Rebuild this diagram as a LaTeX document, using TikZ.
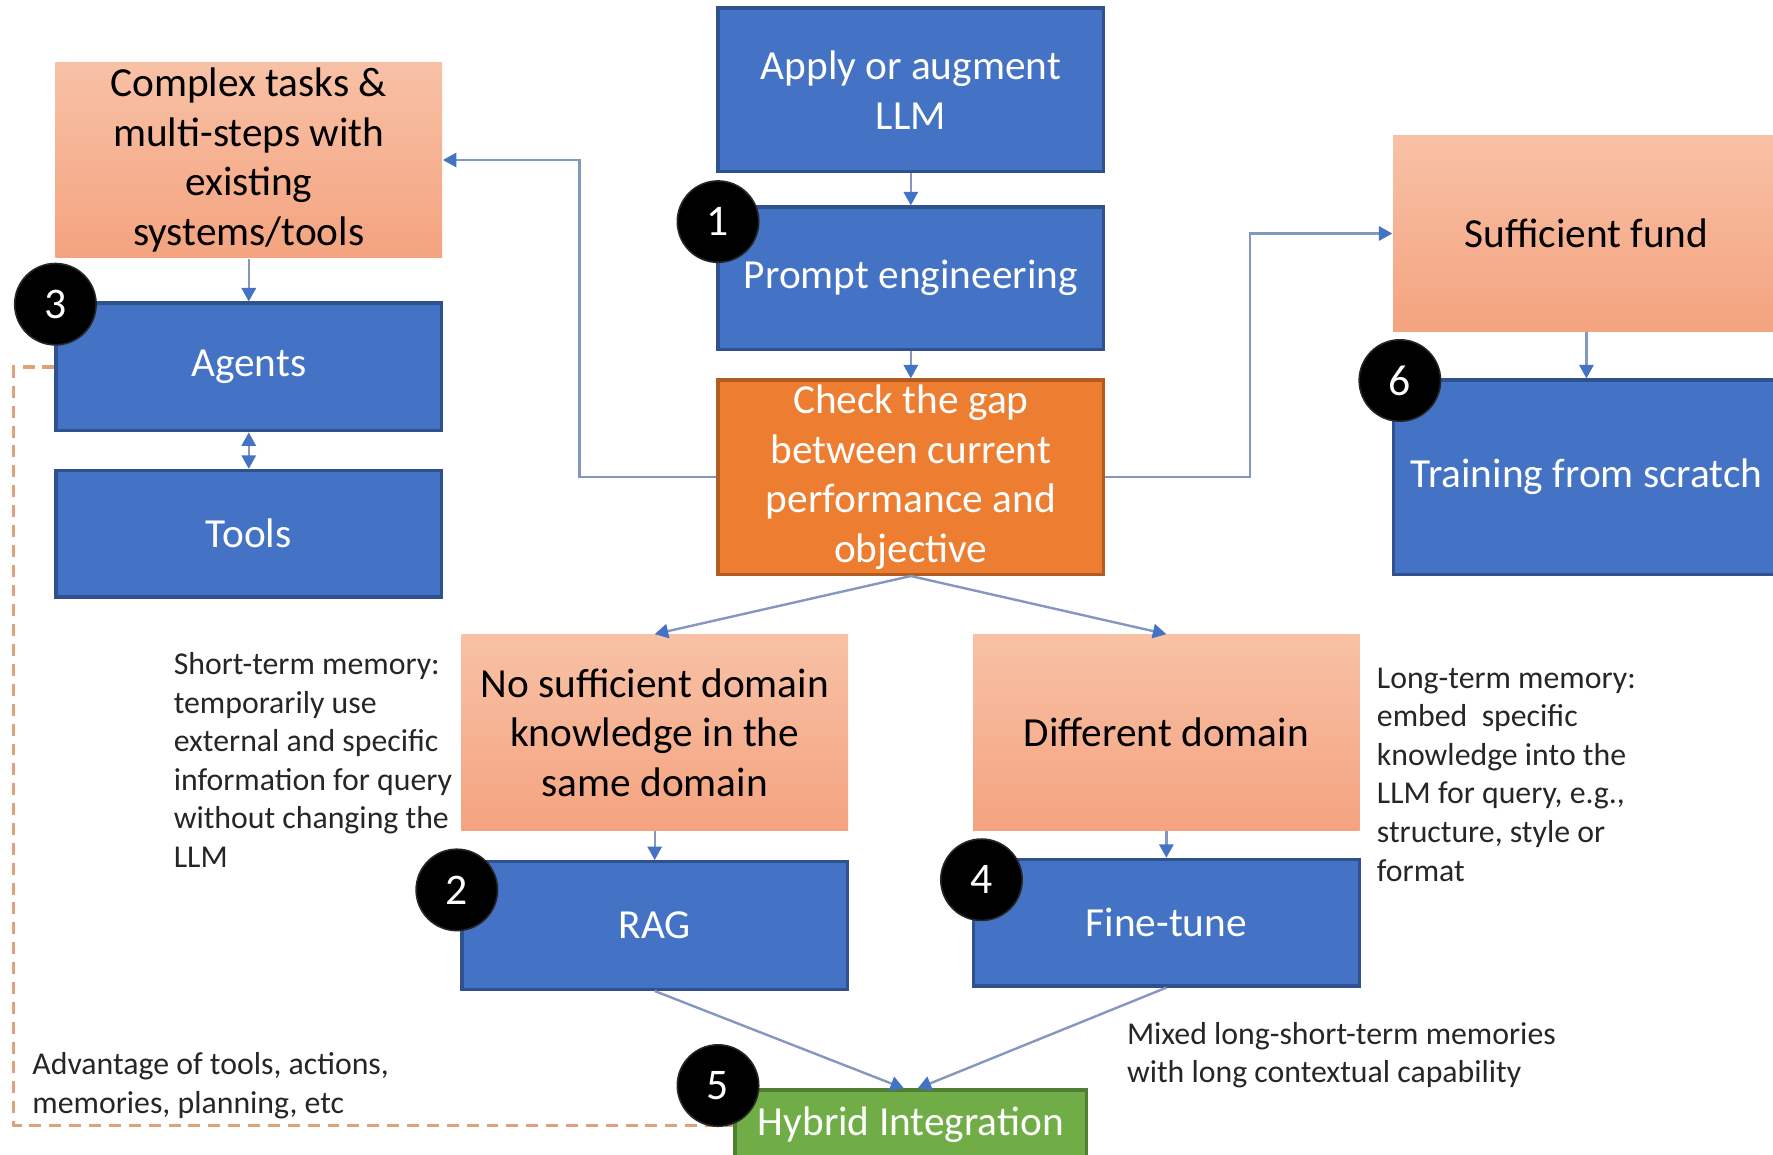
\documentclass[tikz,border=0pt]{standalone}
\usepackage{fontspec}
\setmainfont{Carlito}
\usepackage{xcolor}
\usepackage{tikz}
\usetikzlibrary{arrows.meta,positioning,calc}

\definecolor{boxblue}{HTML}{4472C4}
\definecolor{boxblueline}{HTML}{2F528F}
\definecolor{gaporange}{HTML}{ED7D31}
\definecolor{gaporangeline}{HTML}{B35C22}
\definecolor{peachtop}{HTML}{F8C1A6}
\definecolor{peachbot}{HTML}{F4A37F}
\definecolor{hybridgreen}{HTML}{70AD47}
\definecolor{hybridline}{HTML}{507E32}
\definecolor{linkline}{HTML}{8497C0}
\definecolor{dashorange}{HTML}{E0A07A}

\begin{document}
\begin{tikzpicture}[
  every node/.style={font=\fontsize{10.4}{12.5}\selectfont},
  bluebox/.style={draw=boxblueline, line width=0.8pt, fill=boxblue, text=white,
                  align=center, inner sep=0pt, minimum width=3.41cm},
  gapbox/.style={draw=gaporangeline, line width=0.8pt, fill=gaporange, text=white,
                 align=center, inner sep=0pt, minimum width=3.41cm, minimum height=1.72cm},
  peachbox/.style={top color=peachtop, bottom color=peachbot, text=black,
                   align=center, inner sep=0pt, minimum width=3.42cm, minimum height=1.73cm},
  hybridbox/.style={draw=hybridline, line width=0.8pt, fill=hybridgreen, text=white,
                    align=center, inner sep=0pt, minimum width=3.11cm, minimum height=0.62cm},
  badge/.style={circle, fill=black, draw=black!85, text=white, minimum size=0.72cm,
                inner sep=0pt, font=\fontsize{11}{13}\selectfont},
  note/.style={font=\fontsize{8}{9.7}\selectfont, align=left, inner sep=0pt,
               anchor=west, text=black!85},
  link/.style={-{Triangle[length=3.4pt, width=3.6pt, color=boxblue]},
               linkline, line width=0.6pt},
  linkboth/.style={link, {Triangle[length=3.4pt, width=3.6pt, color=boxblue]}-{Triangle[length=3.4pt, width=3.6pt, color=boxblue]}},
  memdash/.style={dashorange, dashed, line width=0.8pt, dash pattern=on 3pt off 2pt},
]

%% ── Frame (1 cm = 100 px of the sketch) ─────────────────────────────────────
\useasboundingbox (0,0) rectangle (15.68,-10.21);
\clip (0,0) rectangle (15.68,-10.21);

%% ════════════════════════════════════════════════════════════════════════════
%% CENTRE COLUMN
%% ════════════════════════════════════════════════════════════════════════════
\node[bluebox, minimum height=1.45cm] (apply) at (8.055,-0.795)
  {Apply or augment\\LLM};
\node[bluebox, minimum height=1.26cm] (prompt) at (8.055,-2.46)
  {Prompt engineering};
\node[gapbox] (gap) at (8.055,-4.22)
  {Check the gap\\between current\\performance and\\objective};

%% ════════════════════════════════════════════════════════════════════════════
%% LEFT COLUMN — agents
%% ════════════════════════════════════════════════════════════════════════════
\node[peachbox] (complex) at (2.20,-1.415)
  {Complex tasks \&\\multi-steps with\\existing\\systems/tools};
\node[bluebox, minimum height=1.13cm] (agents) at (2.20,-3.245) {Agents};
\node[bluebox, minimum height=1.12cm] (tools) at (2.20,-4.72) {Tools};

%% ════════════════════════════════════════════════════════════════════════════
%% RIGHT COLUMN — from scratch
%% ════════════════════════════════════════════════════════════════════════════
\node[peachbox] (fund) at (14.03,-2.065) {Sufficient fund};
\node[bluebox, minimum width=3.42cm, minimum height=1.72cm] (scratch) at (14.03,-4.22)
  {Training from scratch};

%% ════════════════════════════════════════════════════════════════════════════
%% LOWER BRANCHES — RAG / fine-tune / hybrid
%% ════════════════════════════════════════════════════════════════════════════
\node[peachbox] (samedomain) at (5.79,-6.48)
  {No sufficient domain\\knowledge in the\\same domain};
\node[bluebox, minimum height=1.13cm] (rag) at (5.79,-8.185) {RAG};

\node[peachbox] (diffdomain) at (10.315,-6.48) {Different domain};
\node[bluebox, minimum height=1.12cm] (finetune) at (10.315,-8.16) {Fine-tune};

\node[hybridbox] (hybrid) at (8.055,-9.95) {Hybrid Integration};

%% ── Side notes ───────────────────────────────────────────────────────────────
\node[note] (shortnote) at (1.53,-6.72)
  {Short-term memory:\\temporarily use\\external and specific\\information for query\\without changing the\\LLM};
\node[note] (longnote) at (12.17,-6.85)
  {Long-term memory:\\embed\ \ specific\\knowledge into the\\LLM for query, e.g.,\\structure, style or\\format};
\node[note] (mixnote) at (9.96,-9.33)
  {Mixed long-short-term memories\\with long contextual capability};
\node[note] (agentnote) at (0.28,-9.60)
  {Advantage of tools, actions,\\memories, planning, etc};

%% ── Connectors ───────────────────────────────────────────────────────────────
\draw[link] (apply) -- (prompt);
\draw[link] (prompt) -- (gap);
\draw[link] (gap.west) -- ++(-1.21,0) |- (complex.east);
\draw[link] (gap.east) -- ++(1.28,0) |- (fund.west);
\draw[link] (complex) -- (agents);
\draw[linkboth] (agents) -- (tools);
\draw[link] (fund) -- (scratch);
\draw[link] (gap.south) -- (samedomain.north);
\draw[link] (gap.south) -- (diffdomain.north);
\draw[link] (samedomain) -- (rag);
\draw[link] (diffdomain) -- (finetune);
\draw[link] (rag.south) -- ([xshift=-0.6mm]hybrid.north);
\draw[link] (finetune.south) -- ([xshift=0.6mm]hybrid.north);

% agents feed into the hybrid route
\draw[memdash] (agents.west) -- ++(-0.36,0) |- (hybrid.west);

%% ── Step badges ──────────────────────────────────────────────────────────────
\node[badge] (step1) at (6.35,-1.96) {1};
\node[badge] (step2) at (4.04,-7.87) {2};
\node[badge] (step3) at (0.49,-2.69) {3};
\node[badge] (step4) at (8.68,-7.78) {4};
\node[badge] (step5) at (6.35,-9.60) {5};
\node[badge] (step6) at (12.38,-3.365) {6};

\end{tikzpicture}
\end{document}
